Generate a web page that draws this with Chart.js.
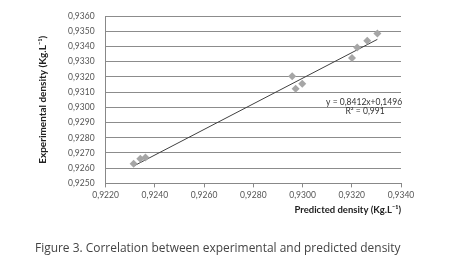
<!DOCTYPE html>
<html>
<head>
<meta charset="utf-8">
<script src="https://cdn.jsdelivr.net/npm/chart.js@4"></script>
<style>
html,body{margin:0;padding:0;background:#fff;}
#wrap{position:relative;width:450px;height:260px;}
#caption{position:absolute;left:35px;top:239px;font-family:"Open Sans",Lato,sans-serif;font-size:11.95px;color:#444;white-space:nowrap;}
</style>
</head>
<body>
<div id="wrap">
<canvas id="c" width="450" height="260"></canvas>
<div id="caption">Figure 3. Correlation between experimental and predicted density</div>
</div>
<script>
const predicted = [0.92314, 0.92341, 0.92362, 0.92958, 0.92972, 0.92999, 0.93201, 0.93222, 0.93263, 0.93304];
const experimental = [0.92630, 0.92662, 0.92670, 0.93205, 0.93122, 0.93155, 0.93324, 0.93394, 0.93438, 0.93486];
const trendX = [0.92314, 0.93304];
const trendY = [0.92614, 0.93447];
const equationText = "y = 0,8412x+0,1496";
const r2Text = "R² = 0,991";
const yTicks = {min: 0.925, max: 0.936, step: 0.001};
const xTicks = {min: 0.922, max: 0.934, step: 0.002};

const fmt = v => v.toFixed(4).replace('.', ',');

const labelPlugin = {
  id: 'trendLabel',
  afterDatasetsDraw(chart) {
    const {ctx, scales} = chart;
    ctx.save();
    ctx.font = '8.5px Lato, "Open Sans", sans-serif';
    ctx.fillStyle = '#333';
    ctx.textAlign = 'center';
    ctx.textBaseline = 'middle';
    const cx = scales.x.getPixelForValue(0.9325);
    ctx.fillText(equationText, cx, scales.y.getPixelForValue(0.93034));
    ctx.fillText(r2Text, cx + 1, scales.y.getPixelForValue(0.92973));
    ctx.restore();
  }
};

new Chart(document.getElementById('c'), {
  type: 'scatter',
  data: {
    datasets: [
      {
        data: predicted.map((x, i) => ({x, y: experimental[i]})),
        pointStyle: 'rectRot',
        pointRadius: 4,
        backgroundColor: '#a6a6a6',
        borderColor: '#a6a6a6',
        borderWidth: 0,
        order: 1
      },
      {
        type: 'line',
        data: trendX.map((x, i) => ({x, y: trendY[i]})),
        borderColor: '#404040',
        borderWidth: 1,
        pointRadius: 0,
        fill: false,
        order: 2
      }
    ]
  },
  options: {
    responsive: false,
    animation: false,
    layout: {padding: {left: 37, right: 49, top: 4, bottom: 44}},
    plugins: {legend: {display: false}, tooltip: {enabled: false}},
    scales: {
      x: {
        type: 'linear',
        min: xTicks.min, max: xTicks.max,
        grid: {drawOnChartArea: false, drawTicks: true, tickLength: 4, color: '#888'},
        border: {color: '#888', width: 1},
        ticks: {stepSize: xTicks.step, callback: fmt, color: '#555', padding: 3, maxRotation: 0,
                font: {family: 'Lato, "Open Sans", sans-serif', size: 8.5}},
        title: {display: true, text: 'Predicted density (Kg.L⁻¹)', align: 'end', color: '#222',
                padding: {top: 1, bottom: 0}, font: {family: 'Lato, "Open Sans", sans-serif', size: 9.5, weight: 'bold'}}
      },
      y: {
        type: 'linear',
        min: yTicks.min, max: yTicks.max,
        grid: {drawTicks: false, color: '#8c8c8c', lineWidth: 1},
        border: {color: '#888', width: 1},
        ticks: {stepSize: yTicks.step, callback: fmt, color: '#555', padding: 11,
                font: {family: 'Lato, "Open Sans", sans-serif', size: 8.5}},
        title: {display: true, text: 'Experimental density (Kg.L⁻¹)', color: '#222',
                padding: {top: 0, bottom: 8}, font: {family: 'Lato, "Open Sans", sans-serif', size: 10, weight: 'bold'}}
      }
    }
  },
  plugins: [labelPlugin]
});
</script>
</body>
</html>
